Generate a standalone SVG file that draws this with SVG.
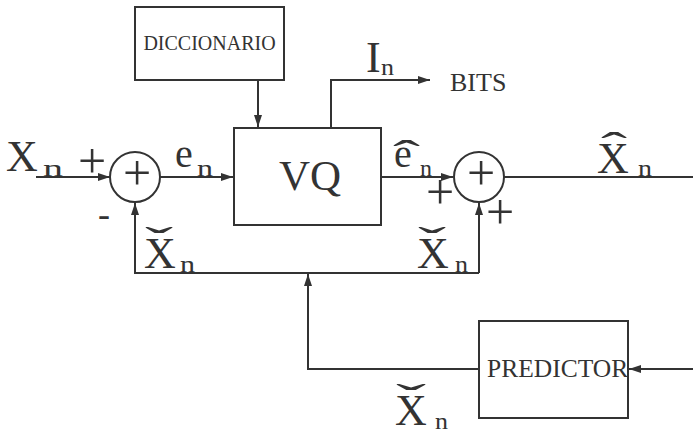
<svg xmlns="http://www.w3.org/2000/svg" width="693" height="435" viewBox="0 0 693 435">
<defs>
<marker id="ah" viewBox="0 0 12 8" refX="12" refY="4" markerWidth="12" markerHeight="8" markerUnits="userSpaceOnUse" orient="auto">
<path d="M0,0 L12,4 L0,8 Z" fill="#333"/>
</marker>
<style>
.ln{fill:none;stroke:#333;stroke-width:2}
.bx{fill:#fff;stroke:#333;stroke-width:2}
.t{font-family:"Liberation Serif","Times New Roman",serif;fill:#333}
.sub{font-size:24px}
.acc{font-size:40px}
.pl{font-size:50px;text-anchor:middle}
</style>
</defs>
<rect width="693" height="435" fill="#fff"/>
<g id="connectors">
<line class="ln" x1="36" y1="177" x2="110" y2="177" marker-end="url(#ah)"/>
<line class="ln" x1="160" y1="177" x2="233" y2="177" marker-end="url(#ah)"/>
<line class="ln" x1="258" y1="80" x2="258" y2="127" marker-end="url(#ah)"/>
<polyline class="ln" points="331,128 331,80 430,80" marker-end="url(#ah)"/>
<line class="ln" x1="381" y1="177" x2="453" y2="177" marker-end="url(#ah)"/>
<line class="ln" x1="504" y1="177" x2="693" y2="177"/>
<polyline class="ln" points="479,273 135,273 135,203" marker-end="url(#ah)"/>
<line class="ln" x1="479" y1="273" x2="479" y2="203" marker-end="url(#ah)"/>
<polyline class="ln" points="479,369 308,369 308,274" marker-end="url(#ah)"/>
<line class="ln" x1="693" y1="369" x2="629" y2="369" marker-end="url(#ah)"/>
</g>
<g id="diccionario">
<rect class="bx" x="135" y="7" width="149" height="73"/>
<text class="t" x="209.5" y="50" font-size="20" text-anchor="middle">DICCIONARIO</text>
</g>
<g id="vq">
<rect class="bx" x="234" y="128" width="147" height="97"/>
<text class="t" x="279" y="190" font-size="43">VQ</text>
</g>
<g id="sum1">
<circle class="bx" cx="135" cy="177" r="25"/>
<text class="t pl" x="137" y="190">+</text>
</g>
<g id="sum2">
<circle class="bx" cx="479" cy="177" r="25"/>
<text class="t pl" x="481" y="190">+</text>
</g>
<g id="predictor">
<rect class="bx" x="479" y="321" width="149" height="97"/>
<text class="t" x="487" y="377" font-size="25.5">PREDICTOR</text>
</g>
<g id="labels">
<text class="t" x="6" y="171" font-size="44">X<tspan class="sub" x="43" y="176" textLength="20" lengthAdjust="spacingAndGlyphs">n</tspan></text>
<text class="t pl" x="92" y="178">+</text>
<text class="t" x="104" y="226" font-size="36" text-anchor="middle">-</text>
<text class="t" x="175" y="167" font-size="40">e<tspan class="sub" x="197" y="176" textLength="16" lengthAdjust="spacingAndGlyphs">n</tspan></text>
<text class="t" x="366" y="72" font-size="44">I<tspan class="sub" x="381" y="75" textLength="13" lengthAdjust="spacingAndGlyphs">n</tspan></text>
<text class="t" x="450" y="91" font-size="26">BITS</text>
<text class="t" x="394" y="167" font-size="40">e<tspan class="acc" x="393" y="168" textLength="27" lengthAdjust="spacingAndGlyphs">ˆ</tspan><tspan class="sub" x="420" y="176" textLength="12" lengthAdjust="spacingAndGlyphs">n</tspan></text>
<text class="t pl" x="440" y="209">+</text>
<text class="t pl" x="500" y="229">+</text>
<text class="t" x="597" y="173" font-size="44">X<tspan class="acc" x="601" y="160" textLength="26" lengthAdjust="spacingAndGlyphs">ˆ</tspan><tspan class="sub" x="638" y="176" textLength="14" lengthAdjust="spacingAndGlyphs">n</tspan></text>
<text class="t" x="144" y="268" font-size="44">X<tspan class="acc" x="145" y="255" textLength="28" lengthAdjust="spacingAndGlyphs">ˇ</tspan><tspan class="sub" x="180" y="272" textLength="15" lengthAdjust="spacingAndGlyphs">n</tspan></text>
<text class="t" x="417" y="268" font-size="44">X<tspan class="acc" x="418" y="255" textLength="28" lengthAdjust="spacingAndGlyphs">ˇ</tspan><tspan class="sub" x="455" y="272" textLength="13" lengthAdjust="spacingAndGlyphs">n</tspan></text>
<text class="t" x="395" y="425" font-size="44">X<tspan class="acc" x="396" y="412" textLength="30" lengthAdjust="spacingAndGlyphs">ˇ</tspan><tspan class="sub" x="435" y="429" textLength="13" lengthAdjust="spacingAndGlyphs">n</tspan></text>
</g>
</svg>
